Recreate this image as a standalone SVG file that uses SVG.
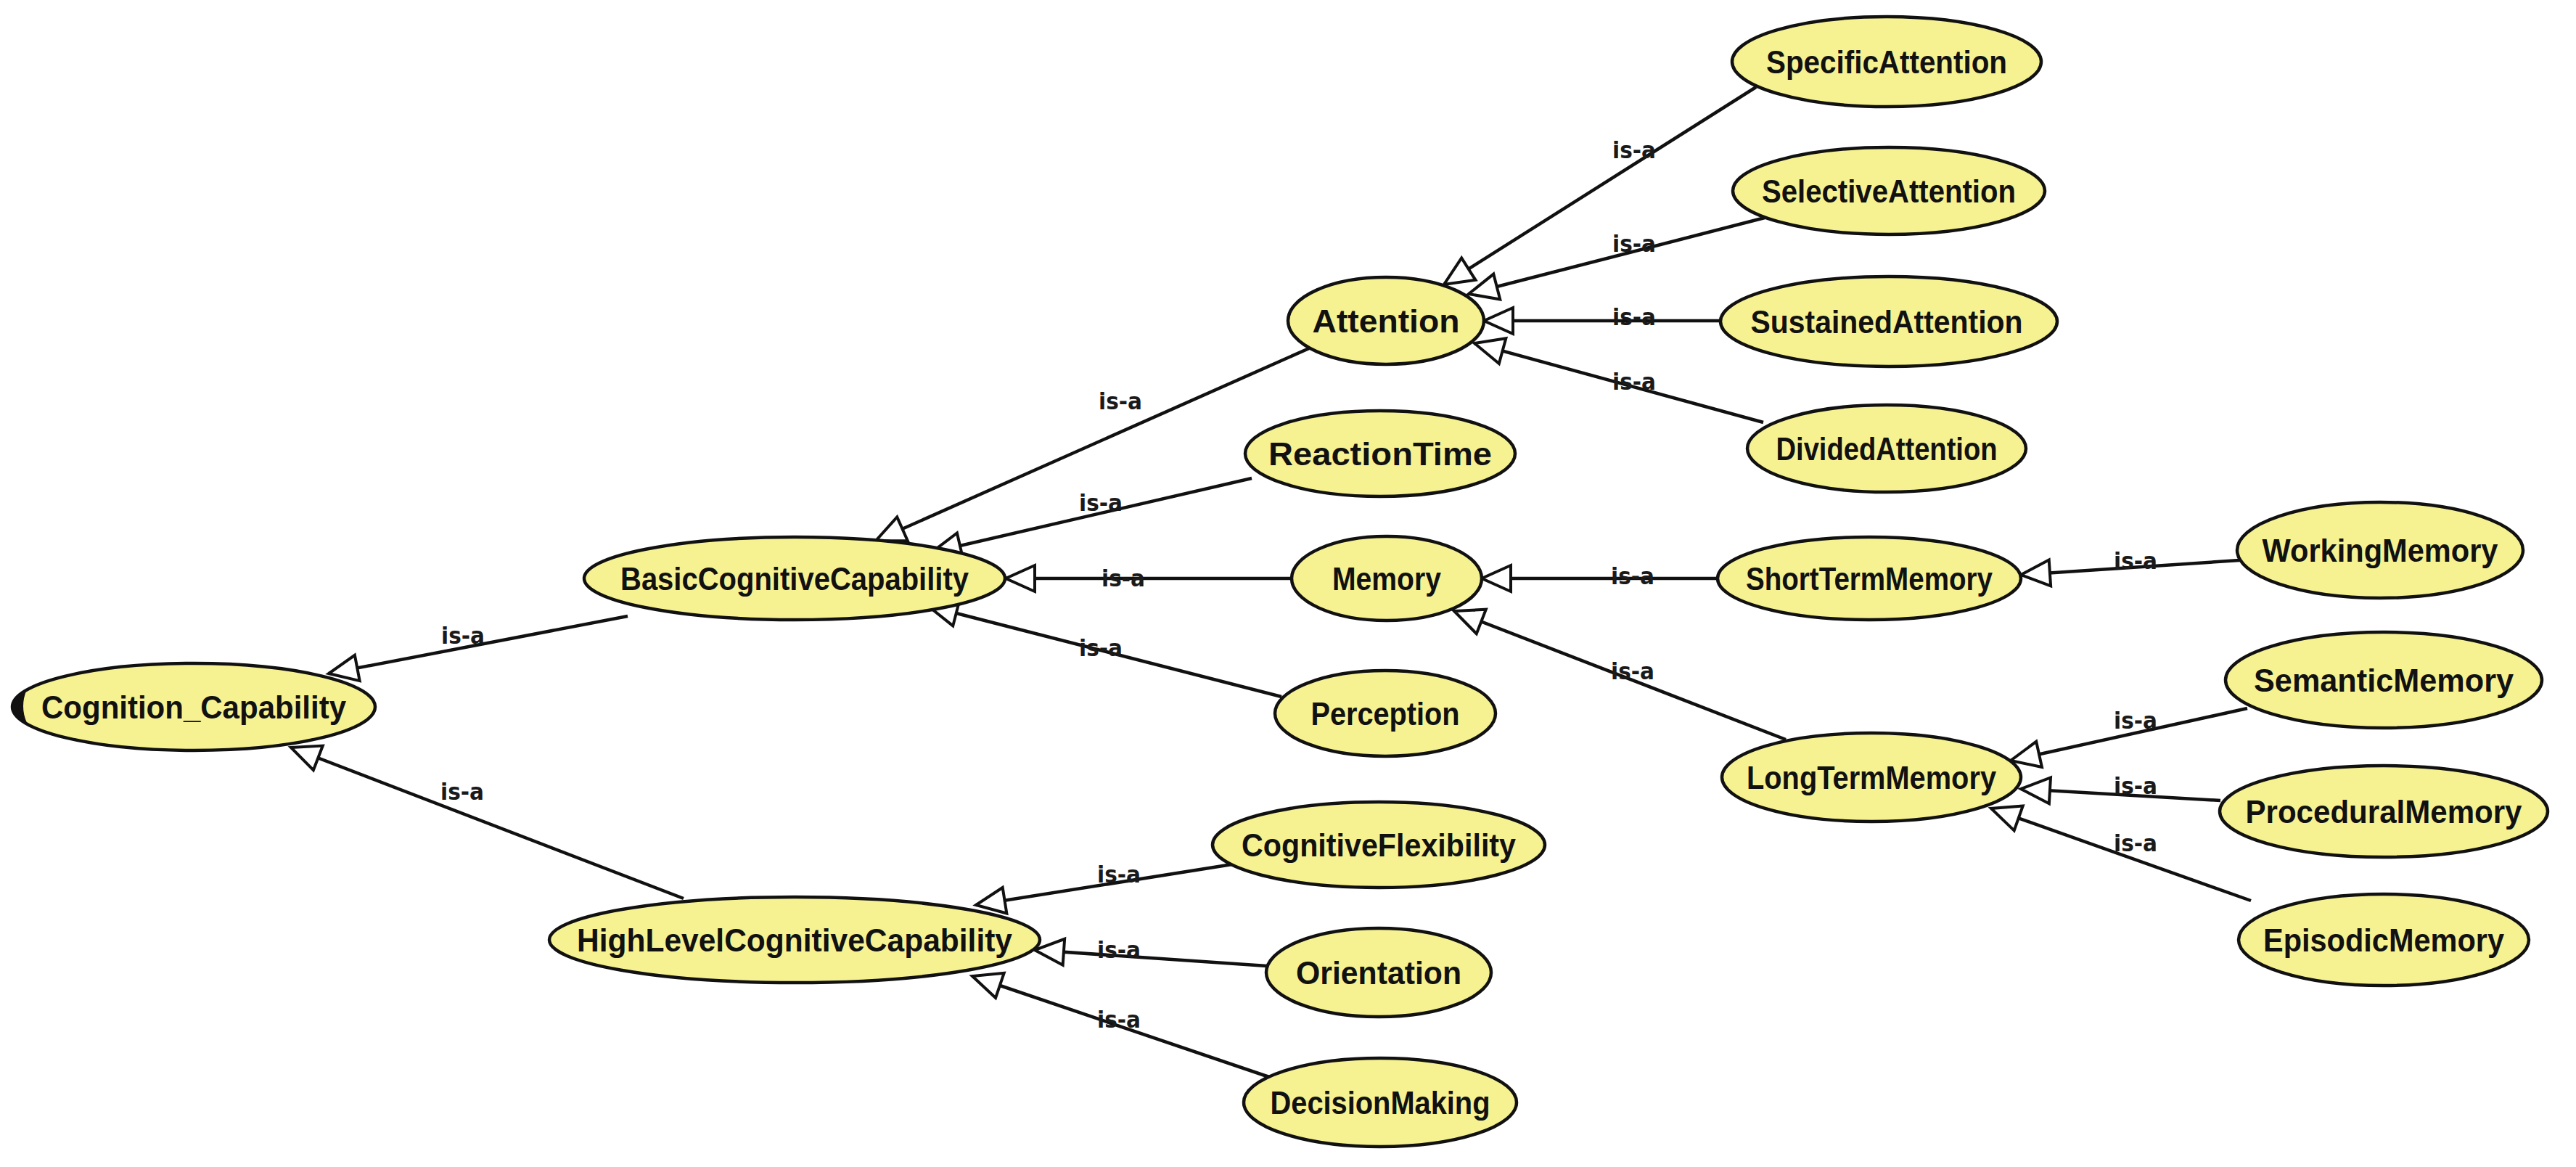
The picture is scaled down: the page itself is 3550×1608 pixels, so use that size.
<svg xmlns="http://www.w3.org/2000/svg" width="3550" height="1608" viewBox="0 0 3550 1608">
<style>
.n ellipse{fill:#F6F292;stroke:#111;stroke-width:4.5}
.n text{font-family:"Liberation Sans",Arial,sans-serif;font-weight:bold;font-size:45px;fill:#111;text-anchor:middle}
.e line{stroke:#111;stroke-width:4.5}
.l{font-family:"DejaVu Sans","Liberation Sans",sans-serif;font-weight:bold;font-size:32px;fill:#1a1a1a;text-anchor:middle}
</style>
<defs>
<marker id="tri" markerUnits="userSpaceOnUse" markerWidth="48" markerHeight="44" refX="40" refY="18" orient="auto" viewBox="-3 -3 48 42">
<path d="M0,0 L40,18 L0,36 Z" fill="#fff" stroke="#111" stroke-width="4"/>
</marker>
</defs>
<rect width="3550" height="1608" fill="#fff"/>
<g id="connectors" class="e">
<line x1="865" y1="849" x2="453" y2="928" marker-end="url(#tri)"/>
<line x1="942" y1="1238" x2="401" y2="1030" marker-end="url(#tri)"/>
<line x1="1804" y1="480" x2="1207" y2="745" marker-end="url(#tri)"/>
<line x1="1725" y1="659" x2="1284" y2="761" marker-end="url(#tri)"/>
<line x1="1780" y1="797" x2="1386" y2="797" marker-end="url(#tri)"/>
<line x1="1766" y1="960" x2="1279" y2="835" marker-end="url(#tri)"/>
<line x1="2420" y1="120" x2="1990" y2="392" marker-end="url(#tri)"/>
<line x1="2432" y1="300" x2="2024" y2="405" marker-end="url(#tri)"/>
<line x1="2371" y1="442" x2="2045" y2="442" marker-end="url(#tri)"/>
<line x1="2430" y1="582" x2="2032" y2="473" marker-end="url(#tri)"/>
<line x1="2366" y1="797" x2="2042" y2="797" marker-end="url(#tri)"/>
<line x1="2461" y1="1019" x2="2004" y2="842" marker-end="url(#tri)"/>
<line x1="3086" y1="772" x2="2785" y2="792" marker-end="url(#tri)"/>
<line x1="3097" y1="976" x2="2771" y2="1048" marker-end="url(#tri)"/>
<line x1="3060" y1="1103" x2="2785" y2="1087" marker-end="url(#tri)"/>
<line x1="3102" y1="1241" x2="2744" y2="1114" marker-end="url(#tri)"/>
<line x1="1698" y1="1191" x2="1345" y2="1247" marker-end="url(#tri)"/>
<line x1="1746" y1="1331" x2="1426" y2="1309" marker-end="url(#tri)"/>
<line x1="1752" y1="1485" x2="1340" y2="1345" marker-end="url(#tri)"/>
<text class="l" x="638" y="887" textLength="60" lengthAdjust="spacingAndGlyphs">is-a</text>
<text class="l" x="637" y="1102" textLength="60" lengthAdjust="spacingAndGlyphs">is-a</text>
<text class="l" x="1544" y="564" textLength="60" lengthAdjust="spacingAndGlyphs">is-a</text>
<text class="l" x="1517" y="704" textLength="60" lengthAdjust="spacingAndGlyphs">is-a</text>
<text class="l" x="1548" y="808" textLength="60" lengthAdjust="spacingAndGlyphs">is-a</text>
<text class="l" x="1517" y="904" textLength="60" lengthAdjust="spacingAndGlyphs">is-a</text>
<text class="l" x="2252" y="218" textLength="60" lengthAdjust="spacingAndGlyphs">is-a</text>
<text class="l" x="2252" y="347" textLength="60" lengthAdjust="spacingAndGlyphs">is-a</text>
<text class="l" x="2252" y="448" textLength="60" lengthAdjust="spacingAndGlyphs">is-a</text>
<text class="l" x="2252" y="537" textLength="60" lengthAdjust="spacingAndGlyphs">is-a</text>
<text class="l" x="2250" y="805" textLength="60" lengthAdjust="spacingAndGlyphs">is-a</text>
<text class="l" x="2250" y="936" textLength="60" lengthAdjust="spacingAndGlyphs">is-a</text>
<text class="l" x="2943" y="784" textLength="60" lengthAdjust="spacingAndGlyphs">is-a</text>
<text class="l" x="2943" y="1004" textLength="60" lengthAdjust="spacingAndGlyphs">is-a</text>
<text class="l" x="2943" y="1094" textLength="60" lengthAdjust="spacingAndGlyphs">is-a</text>
<text class="l" x="2943" y="1173" textLength="60" lengthAdjust="spacingAndGlyphs">is-a</text>
<text class="l" x="1542" y="1216" textLength="60" lengthAdjust="spacingAndGlyphs">is-a</text>
<text class="l" x="1542" y="1320" textLength="60" lengthAdjust="spacingAndGlyphs">is-a</text>
<text class="l" x="1542" y="1416" textLength="60" lengthAdjust="spacingAndGlyphs">is-a</text>
</g>
<g id="n-cognition" class="n"><ellipse cx="267" cy="974" rx="250" ry="60"/><path d="M37,950 Q-3,973 37,996 Q27,973 37,950 Z" fill="#111"/><text x="267" y="990" textLength="420" lengthAdjust="spacingAndGlyphs">Cognition_Capability</text></g>
<g id="n-basic" class="n"><ellipse cx="1095" cy="797" rx="290" ry="57"/><text x="1095" y="813" textLength="480" lengthAdjust="spacingAndGlyphs">BasicCognitiveCapability</text></g>
<g id="n-highlevel" class="n"><ellipse cx="1095" cy="1295" rx="338" ry="59"/><text x="1095" y="1311" textLength="600" lengthAdjust="spacingAndGlyphs">HighLevelCognitiveCapability</text></g>
<g id="n-attention" class="n"><ellipse cx="1910" cy="442" rx="135" ry="60"/><text x="1910" y="458" textLength="203" lengthAdjust="spacingAndGlyphs">Attention</text></g>
<g id="n-reaction" class="n"><ellipse cx="1902" cy="625" rx="186" ry="59"/><text x="1902" y="641" textLength="308" lengthAdjust="spacingAndGlyphs">ReactionTime</text></g>
<g id="n-memory" class="n"><ellipse cx="1911" cy="797" rx="131" ry="58"/><text x="1911" y="813" textLength="150" lengthAdjust="spacingAndGlyphs">Memory</text></g>
<g id="n-perception" class="n"><ellipse cx="1909" cy="983" rx="152" ry="59"/><text x="1909" y="999" textLength="205" lengthAdjust="spacingAndGlyphs">Perception</text></g>
<g id="n-specific" class="n"><ellipse cx="2600" cy="85" rx="213" ry="62"/><text x="2600" y="101" textLength="332" lengthAdjust="spacingAndGlyphs">SpecificAttention</text></g>
<g id="n-selective" class="n"><ellipse cx="2603" cy="263" rx="215" ry="60"/><text x="2603" y="279" textLength="350" lengthAdjust="spacingAndGlyphs">SelectiveAttention</text></g>
<g id="n-sustained" class="n"><ellipse cx="2603" cy="443" rx="232" ry="62"/><text x="2600" y="459" textLength="375" lengthAdjust="spacingAndGlyphs">SustainedAttention</text></g>
<g id="n-divided" class="n"><ellipse cx="2600" cy="618" rx="192" ry="60"/><text x="2600" y="634" textLength="305" lengthAdjust="spacingAndGlyphs">DividedAttention</text></g>
<g id="n-shortterm" class="n"><ellipse cx="2576" cy="797" rx="209" ry="57"/><text x="2576" y="813" textLength="340" lengthAdjust="spacingAndGlyphs">ShortTermMemory</text></g>
<g id="n-longterm" class="n"><ellipse cx="2579" cy="1071" rx="206" ry="61"/><text x="2579" y="1087" textLength="344" lengthAdjust="spacingAndGlyphs">LongTermMemory</text></g>
<g id="n-working" class="n"><ellipse cx="3280" cy="758" rx="197" ry="66"/><text x="3280" y="774" textLength="325" lengthAdjust="spacingAndGlyphs">WorkingMemory</text></g>
<g id="n-semantic" class="n"><ellipse cx="3285" cy="937" rx="218" ry="66"/><text x="3285" y="953" textLength="358" lengthAdjust="spacingAndGlyphs">SemanticMemory</text></g>
<g id="n-procedural" class="n"><ellipse cx="3285" cy="1118" rx="226" ry="63"/><text x="3285" y="1134" textLength="381" lengthAdjust="spacingAndGlyphs">ProceduralMemory</text></g>
<g id="n-episodic" class="n"><ellipse cx="3285" cy="1295" rx="200" ry="63"/><text x="3285" y="1311" textLength="332" lengthAdjust="spacingAndGlyphs">EpisodicMemory</text></g>
<g id="n-cogflex" class="n"><ellipse cx="1900" cy="1164" rx="229" ry="59"/><text x="1900" y="1180" textLength="378" lengthAdjust="spacingAndGlyphs">CognitiveFlexibility</text></g>
<g id="n-orientation" class="n"><ellipse cx="1900" cy="1340" rx="155" ry="61"/><text x="1900" y="1356" textLength="228" lengthAdjust="spacingAndGlyphs">Orientation</text></g>
<g id="n-decision" class="n"><ellipse cx="1902" cy="1519" rx="188" ry="61"/><text x="1902" y="1535" textLength="303" lengthAdjust="spacingAndGlyphs">DecisionMaking</text></g>
</svg>
